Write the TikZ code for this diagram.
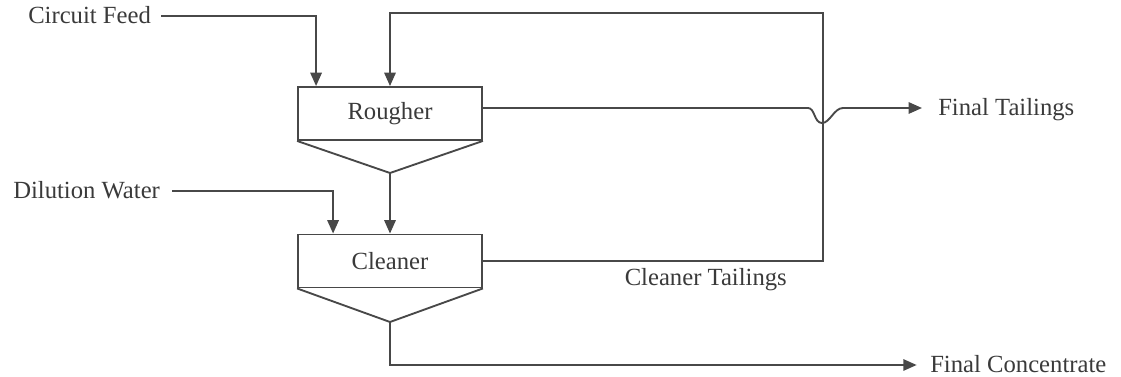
\documentclass[tikz,border=0pt]{standalone}
\usepackage{fontspec}
\setmainfont{Liberation Serif}
\usetikzlibrary{arrows.meta,calc}
\definecolor{ink}{RGB}{72,72,72}
\definecolor{txt}{RGB}{58,58,58}
\begin{document}
\begin{tikzpicture}[x=0.75pt,y=-0.75pt,
  font=\fontsize{18.5}{22}\selectfont,
  pipe/.style={draw=ink, line width=1.4pt},
  flow/.style={pipe, -{Triangle[length=10pt,width=8.5pt]}},
  cell/.style={draw=ink, line width=1.4pt, minimum width=138pt,
    minimum height=39.75pt, inner sep=0pt, text=txt},
  lbl/.style={text=txt, inner sep=0pt, text height=12pt, text depth=0pt}]
\useasboundingbox (0,0) rectangle (1121,377);

% flotation cells with their cone bottoms
\node[cell] (rougher) at (390,113.5) {Rougher};
\coordinate (rapex) at (390,173);
\draw[pipe, line join=miter] (rougher.south west) -- (rapex) -- (rougher.south east);

\node[cell] (cleaner) at (390,261) {Cleaner};
\coordinate (capex) at (390,322);
\draw[pipe, line join=miter] (cleaner.south west) -- (capex) -- (cleaner.south east);

% stream labels
\node[lbl, anchor=west] (feed)  at (28,16)   {Circuit Feed};
\node[lbl, anchor=west] (water) at (13,191)  {Dilution Water};
\node[lbl, anchor=west] (ftail) at (938,108) {Final Tailings};
\node[lbl, anchor=west] (fconc) at (930,365) {Final Concentrate};
\node[lbl, anchor=east] (ctail) at (787,278) {Cleaner Tailings};

% inlet points
\coordinate (feedin)  at ([xshift=7.5pt]feed.east);
\coordinate (r-in1)   at ([xshift=14.25pt]rougher.north west);
\coordinate (waterin) at ([xshift=9pt]water.east);
\coordinate (c-in1)   at ([xshift=27pt]cleaner.north west);
\coordinate (loopTR)  at (823,13);

% feeds
\draw[flow] (feedin) -| (r-in1);
\draw[flow] (waterin) -| (c-in1);
\draw[flow] (rapex) -- (cleaner.north);

% cleaner tailings recycled to the rougher
\draw[flow] (cleaner.east) -| (loopTR) -| (rougher.north);

% rougher tailings, hopping over the recycle line
\draw[flow] (rougher.east |- ftail.west) -- (808,108)
  .. controls (815,108) and (814,123) .. (822,123)
  .. controls (830,123) and (834,108) .. (843,108)
  -- ([xshift=-12pt]ftail.west);

% cleaner concentrate
\draw[flow] (capex) |- ([xshift=-10pt]fconc.west);
\end{tikzpicture}
\end{document}
